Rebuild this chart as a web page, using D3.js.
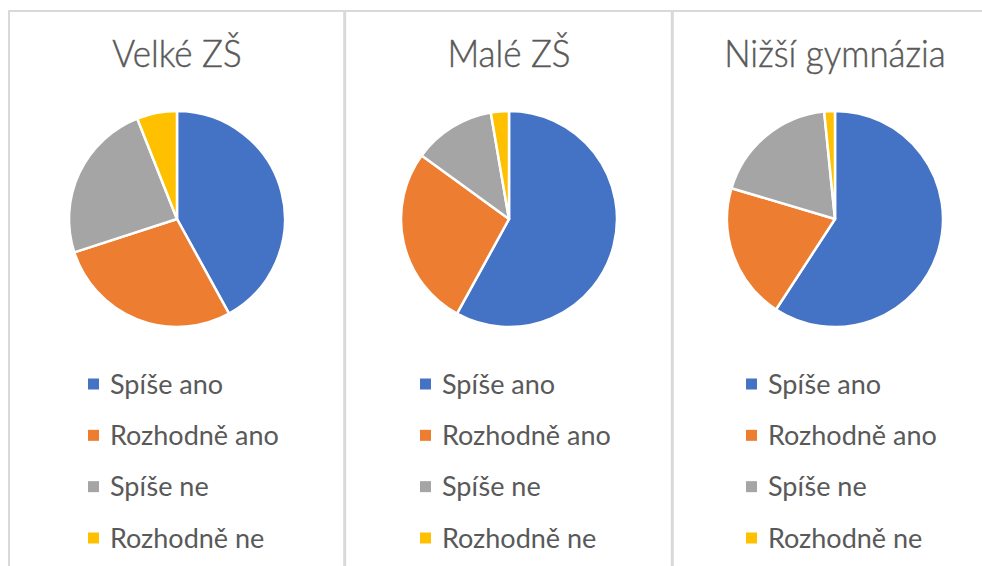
<!DOCTYPE html>
<html>
<head>
<meta charset="utf-8">
<script src="https://cdn.jsdelivr.net/npm/d3@7"></script>
<style>
  html, body { margin: 0; padding: 0; background: #ffffff; }
  svg { display: block; }
  text { font-family: Lato, "Open Sans", sans-serif; fill: #595959; }
</style>
</head>
<body>
<svg id="chart" width="982" height="566"></svg>
<script>
const categories = ["Spíše ano", "Rozhodně ano", "Spíše ne", "Rozhodně ne"];
const colors = ["#4472C4", "#ED7D31", "#A5A5A5", "#FFC000"];
const panelTitles = ["Velké ZŠ", "Malé ZŠ", "Nižší gymnázia"];
const velkeZS = [42, 28, 24, 6];
const maleZS = [58, 27, 12.3, 2.7];
const nizsiGym = [59.2, 20.4, 18.8, 1.6];
const seriesValues = [velkeZS, maleZS, nizsiGym];

const svg = d3.select("#chart");
const W = 982, H = 566;

// frame lines
svg.append("line").attr("x1", 8).attr("x2", W).attr("y1", 11).attr("y2", 11)
  .attr("stroke", "#d9d9d9").attr("stroke-width", 2);
svg.append("line").attr("x1", 9).attr("x2", 9).attr("y1", 10).attr("y2", H)
  .attr("stroke", "#d9d9d9").attr("stroke-width", 2);
[344.7, 672.3].forEach(x => {
  svg.append("line").attr("x1", x).attr("x2", x).attr("y1", 10).attr("y2", H)
    .attr("stroke", "#d9d9d9").attr("stroke-width", 3);
});

const centersX = [177, 509, 835];
const cy = 219;
const radius = 108;

const pie = d3.pie().sort(null).value(d => d);
const arc = d3.arc().innerRadius(0).outerRadius(radius);

const legendY = d3.scalePoint().domain(categories).range([384, 538]);

seriesValues.forEach((vals, i) => {
  const g = svg.append("g").attr("transform", `translate(${centersX[i]},0)`);
  g.append("text").attr("transform", "translate(0,67) scale(1,1.08)")
    .attr("text-anchor", "middle")
    .style("font-size", "35px").style("font-weight", 300)
    .style("stroke", "#595959").style("stroke-width", 0.4).text(panelTitles[i]);

  const pg = g.append("g").attr("transform", `translate(0,${cy})`);
  pg.selectAll("path").data(pie(vals)).join("path")
    .attr("d", arc)
    .attr("fill", (d, j) => colors[j])
    .attr("stroke", "#ffffff").attr("stroke-width", 2.5).attr("stroke-linejoin", "round");

  const lg = g.append("g");
  categories.forEach((c, j) => {
    const y = legendY(c);
    lg.append("rect").attr("x", -89).attr("y", y - 5.5).attr("width", 11).attr("height", 11)
      .attr("fill", colors[j]);
    lg.append("text").attr("x", -67).attr("y", y).attr("dy", "0.36em")
      .style("font-size", "27px").text(c);
  });
});
</script>
</body>
</html>
